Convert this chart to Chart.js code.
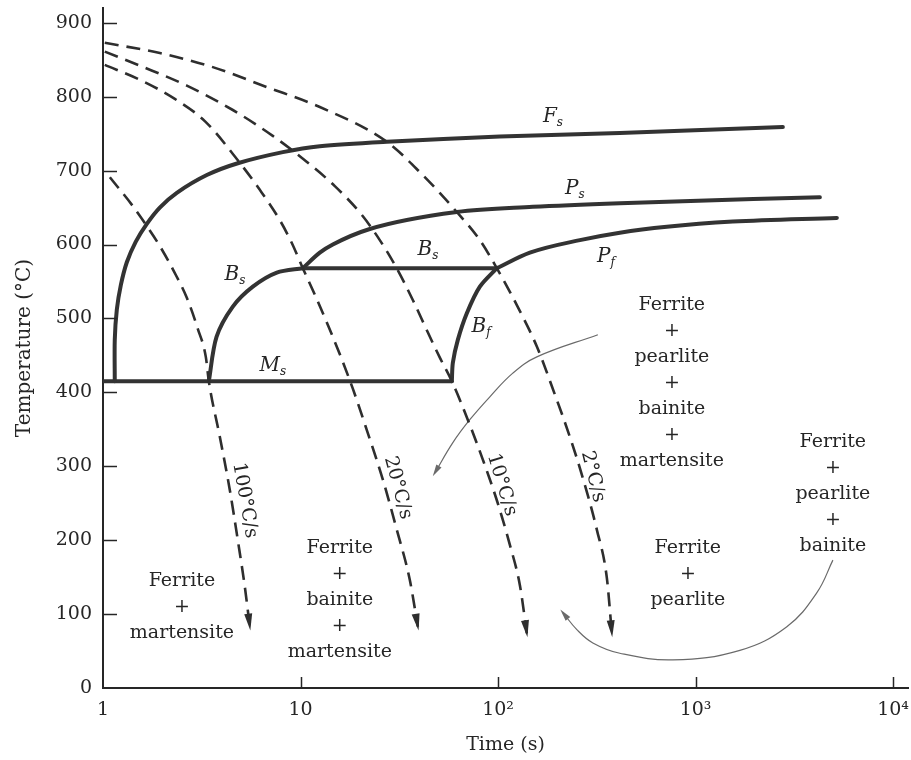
<!DOCTYPE html>
<html>
<head>
<meta charset="utf-8">
<title>CCT diagram</title>
<script src="https://cdn.jsdelivr.net/npm/chart.js@4.4.1/dist/chart.umd.min.js"></script>
<style>
    html, body { margin: 0; padding: 0; background: #fff; }
</style>
</head>
<body>
<canvas id="cctChart" width="911" height="760"></canvas>
<script>
// Ejes
const xTicks = [1, 10, 100, 1000, 10000];
const xTickLabels = ['1', '10', '10²', '10³', '10⁴'];
const yTicks = [0, 100, 200, 300, 400, 500, 600, 700, 800, 900];

// Curvas de enfriamiento [tiempo s, temperatura °C]
const cool100 = [[1.083, 691], [1.416, 652], [1.667, 625], [1.939, 598], [2.283, 564], [2.657, 528], [3.02, 486], [3.315, 448], [3.434, 415], [3.903, 340], [4.385, 268], [4.814, 200], [5.224, 137], [5.538, 83]];
const cool20 = [[1.021, 843], [1.536, 823], [2.31, 797], [3.277, 767], [4.814, 714], [6.222, 674], [7.857, 633], [9.036, 602], [10.27, 568], [11.96, 529], [13.91, 488], [16, 448], [18.4, 405], [21.66, 349], [26.11, 282], [30.73, 214], [35.76, 146], [39.26, 83]];
const cool10 = [[1.021, 861], [1.536, 842], [2.657, 815], [4.542, 782], [7.237, 747], [10.51, 714], [14.92, 679], [20.44, 640], [25.2, 606], [30.37, 570], [37.03, 525], [43.6, 484], [50.74, 447], [58.36, 415], [71.96, 356], [83.75, 309], [98.6, 254], [114.7, 194], [129, 139], [139.9, 74]];
const cool2 = [[1.021, 873], [1.939, 859], [3.597, 840], [6.752, 813], [12.52, 786], [27.35, 739], [40.18, 698], [61.84, 644], [80.9, 606], [98.6, 568], [124.5, 518], [157.2, 462], [194, 397], [230.9, 340], [268.8, 284], [316.5, 214], [355.5, 149], [376.9, 74]];

// Curvas de transformación
const ferriteStart = [[1.147, 415], [1.147, 471], [1.175, 512], [1.231, 545], [1.32, 576], [1.466, 604], [1.667, 628], [1.939, 650], [2.364, 670], [3.354, 694], [4.814, 710], [8.136, 725], [12.52, 733], [27.35, 739], [102.1, 746], [413.7, 751], [2767, 759]];
const bainiteStartCurve = [[3.434, 415], [3.756, 475], [4.542, 516], [5.735, 543], [7.586, 562], [10.27, 568]];
const bainiteStartLine = [[10.27, 568], [98.6, 568]];
const pearliteStart = [[10.27, 568], [12.52, 589], [14.57, 600], [22.43, 621], [61.84, 644], [150, 651], [413.7, 656], [4260, 664]];
const pearliteFinish = [[98.6, 568], [144.9, 589], [259.6, 606], [413.7, 616], [715.5, 624], [1545, 631], [5193, 636]];
const bainiteFinish = [[58.36, 415], [59.05, 440], [62.58, 471], [69.5, 507], [80.9, 543], [98.6, 568]];
const martensiteStart = [[1, 415], [58.36, 415]];

// Flechas finas
const noteArrow1 = [[320.1, 478], [157.2, 448], [118.8, 426], [90.9, 394], [71.96, 363], [59.05, 332], [47.86, 291]];
const noteArrow2 = [[4958, 173], [4114, 129], [2899, 83], [1676, 51], [767.6, 38], [413.7, 47], [302, 61], [250.6, 79], [212.9, 102]];

// Etiquetas
const curveLabels = [['F', 's', 189.5, 775], ['P', 's', 244.8, 678], ['B', 's', 44.12, 595], ['B', 's', 4.65, 562], ['P', 'f', 355.5, 586], ['B', 'f', 82.8, 491], ['M', 's', 7.24, 438]];
const rateLabels = [['100°C/s', 5.22, 254, 80], ['20°C/s', 31.1, 271, 75], ['10°C/s', 104.5, 275, 73], ['2°C/s', 302, 286, 76]];
const regionLabels = [
    [2.51, 110, ['Ferrite', '+', 'martensite']],
    [15.8, 119, ['Ferrite', '+', 'bainite', '+', 'martensite']],
    [758.6, 413, ['Ferrite', '+', 'pearlite', '+', 'bainite', '+', 'martensite']],
    [914, 154, ['Ferrite', '+', 'pearlite']],
    [4955, 263, ['Ferrite', '+', 'pearlite', '+', 'bainite']]
];

const INK = '#262626';
const FONT = '"DejaVu Serif", "Liberation Serif", serif';

const toXY = arr => arr.map(p => ({ x: p[0], y: p[1] }));

function dashed(data) {
    return { data: toXY(data), borderColor: '#2e2e2e', borderWidth: 2.6, borderDash: [14, 8], pointRadius: 0, cubicInterpolationMode: 'monotone', arrow: 'big' };
}
// curvas casi verticales: tensión; curvas tendidas: monotone
function solid(data, steep) {
    const ds = { data: toXY(data), borderColor: '#333', borderWidth: 4, pointRadius: 0, borderCapStyle: 'round' };
    if (steep) ds.tension = 0.3; else ds.cubicInterpolationMode = 'monotone';
    return ds;
}
function thin(data) {
    return { data: toXY(data), borderColor: '#6a6a6a', borderWidth: 1.2, pointRadius: 0, tension: 0.4, arrow: 'small' };
}

// Puntas de flecha, ticks interiores y textos
const annotations = {
    id: 'annotations',
    afterDatasetsDraw(chart) {
        const { ctx, chartArea: a, scales: { x, y } } = chart;
        ctx.save();

        // flechas
        chart.data.datasets.forEach((ds, i) => {
            if (!ds.arrow) return;
            const pts = chart.getDatasetMeta(i).data;
            const p1 = pts[pts.length - 2], p2 = pts[pts.length - 1];
            const ang = Math.atan2(p2.y - p1.y, p2.x - p1.x);
            const len = ds.arrow === 'big' ? 13 : 8;
            const half = ds.arrow === 'big' ? 4 : 3;
            ctx.fillStyle = ds.borderColor;
            ctx.beginPath();
            ctx.moveTo(p2.x + Math.cos(ang) * 4, p2.y + Math.sin(ang) * 4);
            ctx.lineTo(p2.x - Math.cos(ang) * len - Math.sin(ang) * half, p2.y - Math.sin(ang) * len + Math.cos(ang) * half);
            ctx.lineTo(p2.x - Math.cos(ang) * len + Math.sin(ang) * half, p2.y - Math.sin(ang) * len - Math.cos(ang) * half);
            ctx.closePath();
            ctx.fill();
        });

        // ticks hacia dentro
        ctx.strokeStyle = INK;
        ctx.lineWidth = 1.5;
        yTicks.forEach(v => {
            if (v === 0) return;
            const py = Math.round(y.getPixelForValue(v)) + 0.5;
            ctx.beginPath(); ctx.moveTo(a.left, py); ctx.lineTo(a.left + 14, py); ctx.stroke();
        });
        xTicks.forEach(v => {
            if (v === 1) return;
            const px = Math.round(x.getPixelForValue(v)) + 0.5;
            ctx.beginPath(); ctx.moveTo(px, a.bottom); ctx.lineTo(px, a.bottom - 11); ctx.stroke();
        });

        ctx.fillStyle = INK;
        ctx.textBaseline = 'alphabetic';

        // nombres de curvas (cursiva con subíndice)
        curveLabels.forEach(([main, sub, t, T]) => {
            const px = x.getPixelForValue(t), py = y.getPixelForValue(T);
            ctx.font = 'italic 20px ' + FONT;
            ctx.textAlign = 'left';
            const w = ctx.measureText(main).width;
            ctx.fillText(main, px - w / 2 - 3, py + 7);
            ctx.font = 'italic 12px ' + FONT;
            ctx.fillText(sub, px + w / 2 - 3, py + 11);
        });

        // velocidades de enfriamiento
        ctx.font = '19px ' + FONT;
        ctx.textAlign = 'center';
        ctx.textBaseline = 'middle';
        rateLabels.forEach(([txt, t, T, deg]) => {
            ctx.save();
            ctx.translate(x.getPixelForValue(t), y.getPixelForValue(T));
            ctx.rotate(deg * Math.PI / 180);
            ctx.fillText(txt, 0, 0);
            ctx.restore();
        });

        // regiones
        regionLabels.forEach(([t, T, lines]) => {
            const px = x.getPixelForValue(t), py = y.getPixelForValue(T);
            lines.forEach((ln, k) => {
                ctx.fillText(ln, px, py + (k - (lines.length - 1) / 2) * 26);
            });
        });

        ctx.restore();
    }
};

const ctx = document.getElementById('cctChart');
new Chart(ctx, {
    type: 'line',
    data: {
        datasets: [
            dashed(cool100), dashed(cool20), dashed(cool10), dashed(cool2),
            solid(ferriteStart, true), solid(bainiteStartCurve, true), solid(bainiteStartLine, false),
            solid(pearliteStart, false), solid(pearliteFinish, false), solid(bainiteFinish, true),
            solid(martensiteStart, false),
            thin(noteArrow1), thin(noteArrow2)
        ]
    },
    options: {
        responsive: false,
        devicePixelRatio: 1,
        animation: false,
        layout: { padding: { top: 8, right: 3, left: 0, bottom: 0 } },
        plugins: {
            legend: { display: false },
            tooltip: { enabled: false }
        },
        scales: {
            x: {
                type: 'logarithmic',
                min: 1,
                max: 11900,
                afterFit: s => { s.height = 72; s.paddingLeft = 0; s.paddingRight = 0; },
                afterBuildTicks: s => { s.ticks = xTicks.map(v => ({ value: v })); },
                ticks: {
                    autoSkip: false,
                    maxRotation: 0,
                    padding: 11,
                    color: INK,
                    font: { family: FONT, size: 19 },
                    callback: v => xTickLabels[xTicks.indexOf(v)]
                },
                grid: { display: false, drawTicks: false },
                border: { display: true, color: INK, width: 2 },
                title: { display: true, text: 'Time (s)', color: INK, font: { family: FONT, size: 19 }, padding: { top: 0, bottom: 4 } }
            },
            y: {
                min: 0,
                max: 920,
                afterFit: s => { s.width = 103; s.paddingTop = 0; s.paddingBottom = 0; },
                afterBuildTicks: s => { s.ticks = yTicks.map(v => ({ value: v })); },
                ticks: {
                    padding: 11,
                    color: INK,
                    font: { family: FONT, size: 19 }
                },
                grid: { display: false, drawTicks: false },
                border: { display: true, color: INK, width: 2 },
                title: { display: true, text: 'Temperature (°C)', color: INK, font: { family: FONT, size: 20 }, padding: { top: 13, bottom: 0 } }
            }
        }
    },
    plugins: [annotations]
});
</script>
</body>
</html>
